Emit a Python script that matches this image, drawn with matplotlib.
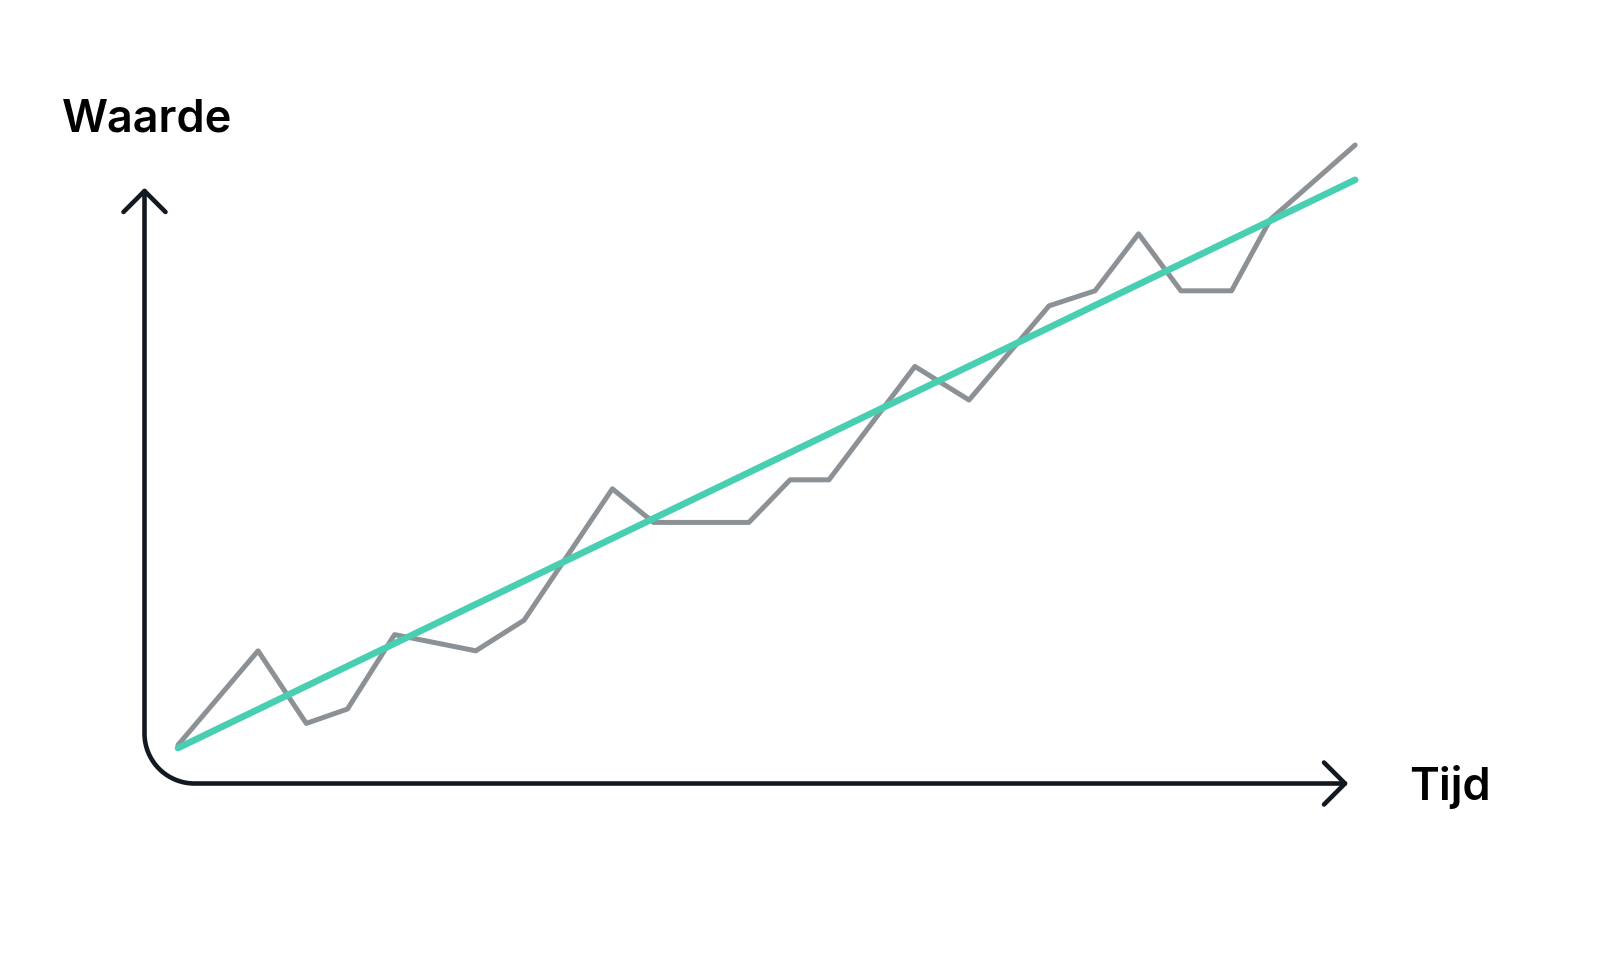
import numpy as np
import matplotlib.pyplot as plt

# Data (time in % of range, value in % of range)
tijd = [0, 6.8, 10.9, 14.4, 18.4, 25.3, 29.4, 36.9, 40.4, 48.5, 52.0,
        55.3, 62.6, 67.2, 74.0, 77.9, 81.6, 85.2, 89.5, 92.8, 100]
waarde = [0, 15.7, 3.6, 6.0, 18.4, 15.7, 20.8, 42.7, 37.1, 37.1, 44.2,
          44.2, 63.1, 57.5, 73.2, 75.7, 85.2, 75.7, 75.7, 87.6, 100]
trend_tijd = [0, 100]
trend_waarde = [-0.5, 94.2]

grey = "#8c9196"
green = "#48cfb2"
ink = "#121920"

plt.rcParams['font.family'] = ['Inter', 'DejaVu Sans']

fig = plt.figure(figsize=(16, 9.6), dpi=100)

# data axes spans the whole figure
ax = fig.add_axes([0, 0, 1, 1])
ax.plot(tijd, waarde, color=grey, lw=3.6, solid_joinstyle='round',
        solid_capstyle='round', zorder=2)
ax.plot(trend_tijd, trend_waarde, color=green, lw=4.8,
        solid_capstyle='round', zorder=3)
ax.set_xlim(-15.12, 120.8)
ax.set_ylim(-35.83, 124.17)
ax.axis('off')

# decoration overlay in pixel coordinates
deco = fig.add_axes([0, 0, 1, 1], zorder=-1)
deco.set_xlim(0, 1600)
deco.set_ylim(960, 0)
deco.axis('off')

x0, y0, r = 144.5, 783.5, 50
a = np.linspace(0, np.pi / 2, 40)
ax_x = np.concatenate([[x0, x0], x0 + r - r * np.cos(a), [1345]])
ax_y = np.concatenate([[191, y0 - r], y0 - r + r * np.sin(a), [y0]])
deco.plot(ax_x, ax_y, color=ink, lw=3.3, solid_capstyle='round',
          solid_joinstyle='round')
# arrow heads
deco.plot([x0 - 21, x0, x0 + 21], [212, 191, 212], color=ink, lw=3.3,
          solid_capstyle='round', solid_joinstyle='round')
deco.plot([1324, 1345, 1324], [y0 - 21, y0, y0 + 21], color=ink, lw=3.3,
          solid_capstyle='round', solid_joinstyle='round')

deco.text(62, 131, "Waarde", fontsize=32.5, fontweight='semibold',
          color='black', va='baseline', ha='left')
deco.text(1409, 800, "Tijd", fontsize=32.5, fontweight='semibold',
          color='black', va='baseline', ha='left')

fig.savefig("out.png", dpi=100, facecolor='white')
